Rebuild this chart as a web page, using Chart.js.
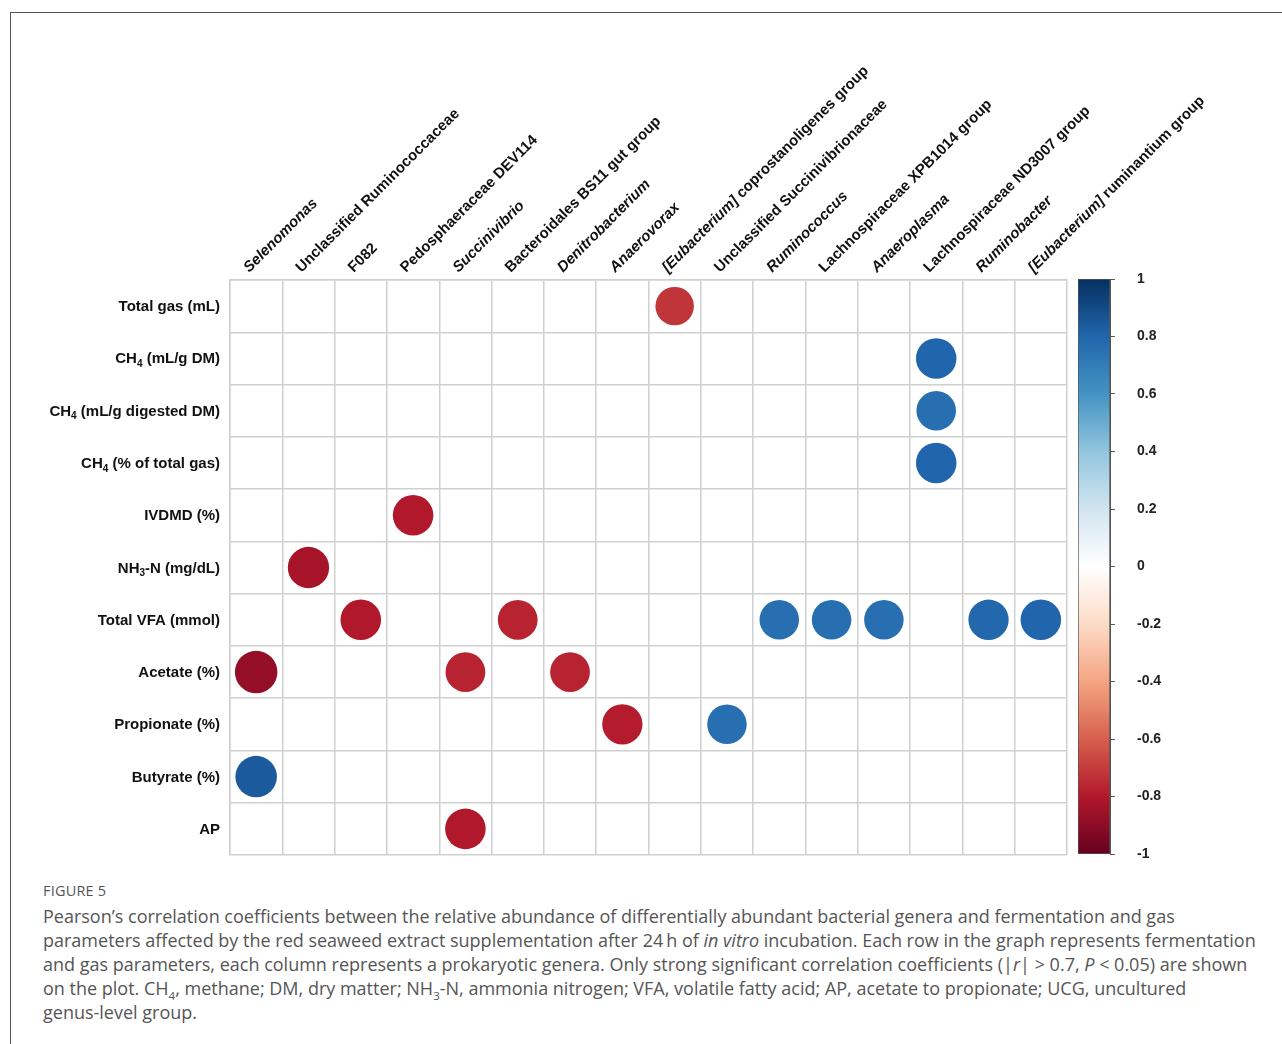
<!DOCTYPE html>
<html>
<head>
<meta charset="utf-8">
<script src="https://cdn.jsdelivr.net/npm/chart.js@4.4.1/dist/chart.umd.min.js"></script>
<style>
  body { margin: 0; background: #fff; width: 1282px; height: 1044px; overflow: hidden; position: relative; }
  #frame { position: absolute; left: 10px; top: 12px; width: 1300px; height: 1100px; border-top: 1.5px solid #555; border-left: 1.5px solid #555; }
  #main { position: absolute; left: 0; top: 0; }
  #cbar { position: absolute; left: 1060px; top: 260px; }
  #cap { position: absolute; left: 43px; top: 882px; color: #555; font-family: "Open Sans", Lato, sans-serif; }
  #cap .fig { font-size: 14.5px; line-height: 18px; letter-spacing: 0.2px; }
  #cap .txt { font-size: 18px; line-height: 24px; white-space: nowrap; margin-top: 4px; }
  #cap sub { font-size: 11.5px; line-height: 0; }
</style>
</head>
<body>
<div id="frame"></div>
<canvas id="main" width="1282" height="870"></canvas>
<canvas id="cbar" width="200" height="620"></canvas>
<div id="cap">
  <div class="fig">FIGURE 5</div>
  <div class="txt">Pearson’s correlation coefficients between the relative abundance of differentially abundant bacterial genera and fermentation and gas<br>
parameters affected by the red seaweed extract supplementation after 24&#8201;h of <i>in vitro</i> incubation. Each row in the graph represents fermentation<br>
and gas parameters, each column represents a prokaryotic genera. Only strong significant correlation coefficients (|<i>r</i>| &gt; 0.7, <i>P</i> &lt; 0.05) are shown<br>
on the plot. CH<sub>4</sub>, methane; DM, dry matter; NH<sub>3</sub>-N, ammonia nitrogen; VFA, volatile fatty acid; AP, acetate to propionate; UCG, uncultured<br>
genus-level group.</div>
</div>
<script>
// '*' toggles italic, '_{..}' is a subscript
const genera = [
  '*Selenomonas*', 'Unclassified Ruminococcaceae', 'F082', 'Pedosphaeraceae DEV114',
  '*Succinivibrio*', 'Bacteroidales BS11 gut group', '*Denitrobacterium*', '*Anaerovorax*',
  '*[Eubacterium]* coprostanoligenes group', 'Unclassified Succinivibrionaceae', '*Ruminococcus*',
  'Lachnospiraceae XPB1014 group', '*Anaeroplasma*', 'Lachnospiraceae ND3007 group',
  '*Ruminobacter*', '*[Eubacterium]* ruminantium group'
];
const params = [
  'Total gas (mL)', 'CH_{4} (mL/g DM)', 'CH_{4} (mL/g digested DM)', 'CH_{4} (% of total gas)',
  'IVDMD (%)', 'NH_{3}-N (mg/dL)', 'Total VFA (mmol)', 'Acetate (%)', 'Propionate (%)',
  'Butyrate (%)', 'AP'
];
const N = null;
// one row per parameter, one column per genus; only |r| > 0.7 shown
const corr = [
  [N, N, N, N, N, N, N, N, -0.72, N, N, N, N, N, N, N],
  [N, N, N, N, N, N, N, N, N, N, N, N, N, 0.80, N, N],
  [N, N, N, N, N, N, N, N, N, N, N, N, N, 0.76, N, N],
  [N, N, N, N, N, N, N, N, N, N, N, N, N, 0.80, N, N],
  [N, N, N, -0.80, N, N, N, N, N, N, N, N, N, N, N, N],
  [N, -0.83, N, N, N, N, N, N, N, N, N, N, N, N, N, N],
  [N, N, -0.80, N, N, -0.77, N, N, N, N, 0.76, 0.76, 0.76, N, 0.79, 0.80],
  [-0.88, N, N, N, -0.77, N, -0.77, N, N, N, N, N, N, N, N, N],
  [N, N, N, N, N, N, N, -0.79, N, 0.76, N, N, N, N, N, N],
  [0.84, N, N, N, N, N, N, N, N, N, N, N, N, N, N, N],
  [N, N, N, N, -0.80, N, N, N, N, N, N, N, N, N, N, N]
];
const cbarTicks = [-1, -0.8, -0.6, -0.4, -0.2, 0, 0.2, 0.4, 0.6, 0.8, 1];
const rdbu = ['#67001F', '#B2182B', '#D6604D', '#F4A582', '#FDDBC7', '#FFFFFF',
              '#D1E5F0', '#92C5DE', '#4393C3', '#2166AC', '#053061'];

const FONT = '"Liberation Sans", Arial, Helvetica, sans-serif';
const LABEL_SIZE = 15;

function hexRgb(h) {
  return [parseInt(h.slice(1, 3), 16), parseInt(h.slice(3, 5), 16), parseInt(h.slice(5, 7), 16)];
}
function colorFor(v) {
  const p = (v + 1) / 2 * (rdbu.length - 1);
  const i = Math.min(Math.floor(p), rdbu.length - 2);
  const f = p - i;
  const a = hexRgb(rdbu[i]), b = hexRgb(rdbu[i + 1]);
  const c = a.map((x, k) => Math.round(x + (b[k] - x) * f));
  return `rgb(${c[0]},${c[1]},${c[2]})`;
}

function parseRich(s) {
  const runs = [];
  let it = false, buf = '', i = 0;
  const flush = () => { if (buf) { runs.push({ t: buf, it, sub: false }); buf = ''; } };
  while (i < s.length) {
    const ch = s[i];
    if (ch === '*') { flush(); it = !it; i++; }
    else if (ch === '_' && s[i + 1] === '{') {
      flush();
      const j = s.indexOf('}', i);
      runs.push({ t: s.slice(i + 2, j), it, sub: true });
      i = j + 1;
    } else { buf += ch; i++; }
  }
  flush();
  return runs;
}
function fontFor(r, size) {
  return (r.it ? 'italic ' : '') + 'bold ' + (r.sub ? Math.round(size * 0.66) : size) + 'px ' + FONT;
}
function drawRich(ctx, text, x, y, size, align) {
  const runs = parseRich(text);
  let w = 0;
  runs.forEach(r => { ctx.font = fontFor(r, size); w += ctx.measureText(r.t).width; });
  let cx = align === 'right' ? x - w : x;
  runs.forEach(r => {
    ctx.font = fontFor(r, size);
    ctx.fillText(r.t, cx, y + (r.sub ? size * 0.25 : 0));
    cx += ctx.measureText(r.t).width;
  });
}

// bubble points from the matrix: x = genus index, y = parameter index
const points = [];
corr.forEach((row, ri) => row.forEach((v, ci) => {
  if (v !== null) points.push({ x: ci, y: ri, v });
}));

// grid lines sit on the cell borders
const borderTicks = n => s => {
  s.ticks = [];
  for (let i = 0; i <= n; i++) s.ticks.push({ value: i - 0.5 });
};

const labelPlugin = {
  id: 'richLabels',
  afterDraw(chart) {
    const ctx = chart.ctx, xs = chart.scales.x, ys = chart.scales.y;
    ctx.save();
    ctx.fillStyle = '#111';
    ctx.textBaseline = 'alphabetic';
    params.forEach((p, i) => {
      drawRich(ctx, p, chart.chartArea.left - 10, ys.getPixelForValue(i) + 5, LABEL_SIZE, 'right');
    });
    genera.forEach((g, i) => {
      ctx.save();
      ctx.translate(xs.getPixelForValue(i) - 7, chart.chartArea.top - 7);
      ctx.rotate(-Math.PI / 4);
      drawRich(ctx, g, 0, 0, LABEL_SIZE, 'left');
      ctx.restore();
    });
    ctx.restore();
  }
};

const gridOpts = { drawTicks: false, color: '#d0d0d0', lineWidth: 1.5 };
const borderOpts = { color: '#d0d0d0', width: 1.5 };

// circle area follows |r| (corrplot "circle" method)
function bubbleRadius(c) {
  const xs = c.chart.scales.x;
  let cell = xs ? (xs.right - xs.left) / genera.length : NaN;
  if (!isFinite(cell) || cell <= 0) cell = 52;
  const v = (c.raw && c.raw.v !== undefined) ? c.raw.v : 0.8;
  return cell * 0.436 * Math.sqrt(Math.abs(v));
}

new Chart(document.getElementById('main'), {
  type: 'bubble',
  data: {
    datasets: [{
      data: points,
      backgroundColor: c => (c.raw && c.raw.v !== undefined) ? colorFor(c.raw.v) : '#888',
      borderWidth: 0,
      radius: bubbleRadius,
      clip: false
    }]
  },
  options: {
    responsive: false,
    animation: false,
    events: [],
    layout: { padding: { left: 230, top: 280, right: 215, bottom: 15 }, autoPadding: false },
    plugins: { legend: { display: false }, tooltip: { enabled: false } },
    scales: {
      x: {
        type: 'linear', position: 'top', min: -0.5, max: genera.length - 0.5,
        afterBuildTicks: borderTicks(genera.length),
        ticks: { display: false },
        grid: gridOpts, border: borderOpts
      },
      y: {
        type: 'linear', reverse: true, min: -0.5, max: params.length - 0.5,
        afterBuildTicks: borderTicks(params.length),
        ticks: { display: false },
        grid: gridOpts, border: borderOpts
      }
    }
  },
  plugins: [labelPlugin]
});

// colour legend
new Chart(document.getElementById('cbar'), {
  type: 'bar',
  data: {
    labels: [''],
    datasets: [{
      data: [[cbarTicks[0], cbarTicks[cbarTicks.length - 1]]],
      backgroundColor: c => {
        const a = c.chart.chartArea;
        if (!a) return '#fff';
        const g = c.chart.ctx.createLinearGradient(0, a.bottom, 0, a.top);
        rdbu.forEach((col, i) => g.addColorStop(i / (rdbu.length - 1), col));
        return g;
      },
      borderColor: '#555',
      borderWidth: 1,
      borderSkipped: false,
      barPercentage: 1,
      categoryPercentage: 1
    }]
  },
  options: {
    responsive: false,
    animation: false,
    events: [],
    layout: { padding: { left: 18, top: 19, right: 90, bottom: 26 } },
    plugins: { legend: { display: false }, tooltip: { enabled: false } },
    scales: {
      x: { display: false },
      y: {
        position: 'right', min: -1, max: 1,
        afterFit(s) { s.width = 60; s.paddingTop = 0; s.paddingBottom = 0; },
        afterBuildTicks(s) { s.ticks = cbarTicks.map(v => ({ value: v })); },
        ticks: {
          padding: 22, color: '#222',
          font: { family: FONT, weight: 'bold', size: 14 },
          callback: v => String(Math.round(v * 10) / 10)
        },
        grid: { drawOnChartArea: false, tickLength: 5, color: '#555' },
        border: { display: true, color: '#555' }
      }
    }
  }
});
</script>
</body>
</html>
